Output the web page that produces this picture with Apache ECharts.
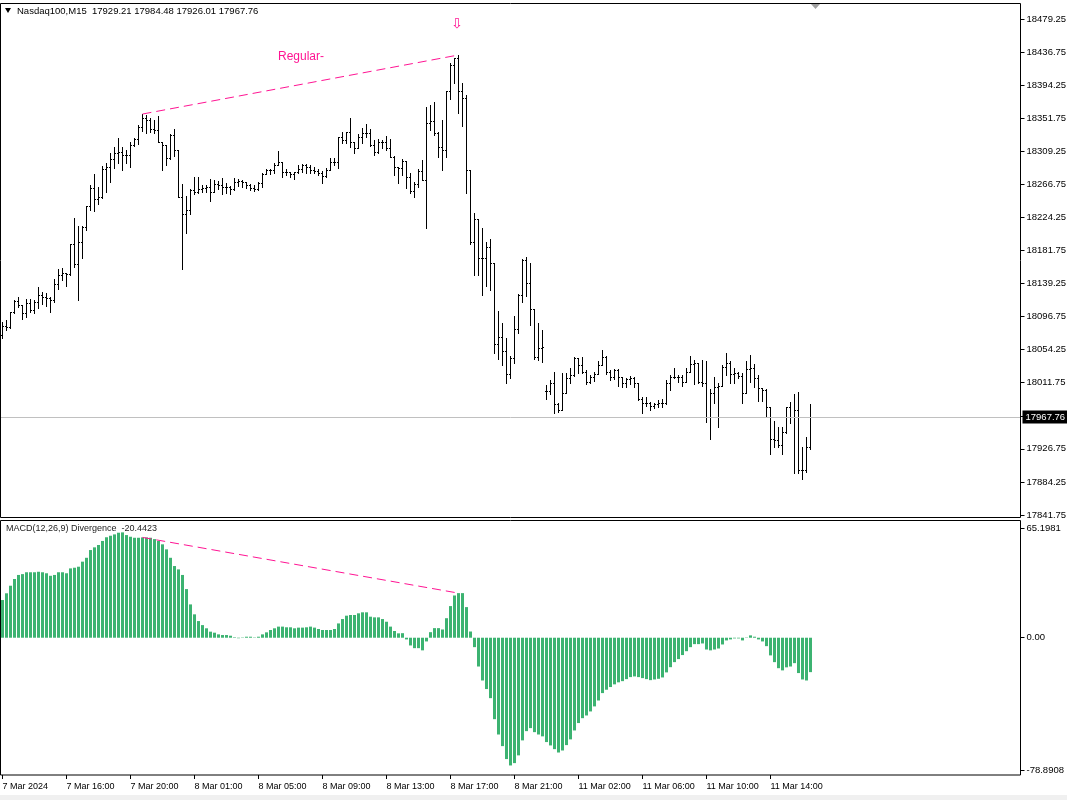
<!DOCTYPE html>
<html><head><meta charset="utf-8">
<script src="https://cdn.jsdelivr.net/npm/echarts@6/dist/echarts.min.js"></script>
<style>html,body{margin:0;padding:0;background:#fff}#c{width:1067px;height:800px}</style>
</head><body><div id="c"></div>
<script>
// ---- data ----
const symbolName = 'Nasdaq100,M15';
const opens = [
18073.1,18084.7,18083.4,18102.7,18116.8,18111.7,18101.4,18114.2,18105.2,18115.5,
18124.5,18121.9,18120.7,18118.1,18138.6,18150.2,18152.8,18151.5,18190.1,18164.6,
18192.6,18211.9,18238.9,18262.0,18247.9,18250.4,18286.5,18289.0,18299.3,18307.0,
18308.3,18304.5,18304.5,18317.3,18325.0,18340.4,18352.0,18349.4,18337.9,18336.6,
18321.2,18317.3,18300.6,18330.2,18310.9,18250.4,18228.6,18233.8,18259.5,18256.9,
18260.7,18262.0,18263.3,18256.9,18267.2,18265.9,18263.3,18263.3,18260.7,18269.7,
18271.0,18269.7,18265.9,18262.0,18260.7,18268.5,18280.3,18285.2,18285.2,18291.6,
18295.5,18282.6,18282.6,18280.0,18282.6,18286.5,18291.6,18289.0,18285.2,18283.9,
18281.3,18277.5,18285.2,18295.5,18295.5,18327.6,18323.7,18334.0,18321.2,18313.5,
18327.6,18332.7,18332.7,18317.3,18308.3,18321.2,18321.2,18313.5,18301.9,18289.0,
18287.7,18296.8,18276.2,18258.2,18267.2,18283.9,18272.3,18345.6,18348.2,18332.7,
18314.7,18310.9,18386.7,18420.1,18429.1,18386.7,18377.7,18285.2,18192.6,18222.2,
18172.1,18172.1,18186.2,18165.6,18061.5,18070.5,18052.5,18023.0,18043.5,18080.8,
18124.5,18169.5,18139.9,18106.5,18044.8,18056.4,18001.1,18001.1,18011.4,17984.4,
17976.7,17998.6,18017.8,18021.7,18043.5,18034.5,18025.5,18012.7,18019.1,18023.0,
18034.5,18044.8,18025.5,18019.1,18028.1,18019.1,18011.4,18016.6,18017.8,18011.4,
17990.8,17985.7,17985.7,17981.8,17984.4,17985.7,17985.7,18011.4,18019.1,18019.1,
18019.1,18012.7,18025.5,18035.8,18037.1,18012.7,18011.4,17967.7,17998.6,18006.3,
18007.5,18031.9,18037.1,18023.0,18024.3,18020.4,17998.6,18029.4,18030.7,18017.8,
18005.0,18002.4,17980.6,17939.4,17938.1,17931.7,17948.4,17980.6,17967.7,17976.7,
17899.6,17899.6,17929.21];
const highs = [
18089.8,18092.4,18102.7,18118.1,18121.9,18111.7,18119.4,18119.4,18118.1,18134.8,
18128.4,18127.1,18121.9,18145.1,18157.9,18159.2,18152.8,18190.1,18223.5,18213.2,
18213.2,18238.9,18265.9,18280.3,18263.3,18290.3,18294.2,18307.0,18314.7,18326.3,
18314.7,18310.9,18321.2,18326.3,18343.0,18357.1,18355.9,18352.0,18349.4,18354.6,
18321.2,18317.3,18331.4,18337.9,18310.9,18267.2,18251.7,18260.7,18276.2,18276.2,
18265.9,18265.9,18273.6,18272.3,18271.0,18274.9,18268.5,18264.6,18274.9,18273.6,
18272.3,18269.7,18267.2,18265.9,18269.7,18281.6,18286.5,18286.5,18294.2,18309.6,
18295.5,18286.5,18282.6,18282.6,18291.6,18292.9,18292.9,18291.6,18289.0,18286.5,
18283.9,18287.7,18300.6,18300.6,18327.6,18334.0,18334.0,18352.0,18321.2,18331.4,
18339.2,18344.3,18337.9,18323.7,18325.0,18323.7,18328.9,18325.0,18303.2,18289.0,
18299.3,18296.8,18281.3,18269.7,18286.5,18298.0,18366.1,18368.7,18372.6,18334.0,
18349.4,18386.7,18422.7,18429.1,18433.0,18397.0,18381.6,18285.2,18230.0,18222.2,
18210.6,18192.6,18196.5,18165.6,18103.9,18088.5,18069.2,18046.1,18097.5,18125.8,
18170.8,18173.4,18165.6,18106.5,18088.5,18079.5,18008.8,18015.3,18025.5,17985.7,
18024.3,18024.3,18030.7,18044.2,18043.5,18044.8,18028.1,18021.7,18025.5,18039.7,
18053.8,18046.1,18028.1,18029.4,18029.4,18019.1,18017.8,18020.4,18019.1,18011.4,
17993.4,17993.4,17987.0,17985.7,17989.6,17990.8,18015.3,18021.7,18030.7,18021.7,
18021.7,18030.7,18046.1,18041.0,18037.1,18041.0,18039.7,18003.7,18019.1,18011.4,
18034.5,18050.0,18039.7,18030.7,18025.5,18024.3,18039.7,18047.4,18035.8,18021.7,
18005.0,18003.7,17980.6,17962.6,17954.9,17954.9,17980.6,17987.0,17997.3,18000.0,
17929.2,17942.0,17984.48];
const lows = [
18069.2,18079.5,18082.2,18101.4,18109.1,18093.7,18096.2,18102.7,18101.4,18107.8,
18112.9,18110.4,18102.7,18115.5,18132.2,18143.8,18136.1,18150.2,18160.8,18118.1,
18172.1,18208.1,18233.8,18232.5,18241.5,18249.1,18256.9,18269.7,18287.7,18294.2,
18285.2,18294.2,18289.0,18316.0,18318.6,18335.3,18332.7,18334.0,18332.7,18321.2,
18285.2,18291.6,18299.3,18303.2,18250.4,18157.9,18204.2,18228.6,18254.3,18255.6,
18256.9,18256.9,18245.3,18256.9,18260.7,18254.3,18255.6,18254.3,18259.5,18264.6,
18263.3,18262.0,18259.5,18258.2,18259.5,18263.3,18280.3,18280.3,18281.6,18291.6,
18276.2,18278.7,18276.2,18273.6,18281.3,18282.6,18281.3,18281.3,18281.3,18278.7,
18268.5,18276.2,18285.2,18291.6,18287.7,18319.9,18319.9,18314.7,18307.0,18313.5,
18319.9,18327.6,18316.0,18304.5,18307.0,18313.5,18310.9,18301.9,18278.7,18268.5,
18278.7,18262.0,18255.6,18250.4,18263.3,18272.3,18210.6,18336.6,18330.2,18301.9,
18285.2,18301.9,18376.4,18397.0,18358.4,18341.7,18255.6,18190.1,18150.2,18150.2,
18124.5,18136.1,18130.9,18050.0,18042.3,18034.5,18011.4,18017.8,18037.1,18075.7,
18115.5,18123.2,18086.0,18042.3,18041.0,18038.4,17990.8,17997.3,17972.9,17974.0,
17976.7,17998.6,18011.4,18020.4,18024.3,18024.3,18010.1,18011.4,18014.0,18023.0,
18034.5,18023.0,18015.3,18016.6,18007.2,18005.9,18005.9,18010.1,18005.9,17989.6,
17972.9,17981.8,17976.7,17979.3,17980.6,17980.6,17984.4,18002.4,18017.8,18012.7,
18007.2,18012.7,18025.5,18010.1,18011.4,18007.2,17961.3,17939.4,17985.7,17954.9,
18007.5,18021.7,18011.4,18011.4,18017.8,17985.7,17998.6,18012.7,18006.3,17988.3,
17988.3,17967.7,17920.2,17929.2,17929.2,17920.2,17947.1,17960.0,17895.7,17895.7,
17888.0,17897.0,17926.01];
const closes = [
18084.7,18083.4,18102.7,18116.8,18111.7,18101.4,18114.2,18105.2,18115.5,18124.5,
18121.9,18120.7,18118.1,18138.6,18150.2,18152.8,18151.5,18190.1,18164.6,18192.6,
18211.9,18238.9,18262.0,18247.9,18250.4,18286.5,18289.0,18299.3,18307.0,18308.3,
18304.5,18304.5,18317.3,18325.0,18340.4,18352.0,18349.4,18337.9,18336.6,18321.2,
18317.3,18300.6,18330.2,18310.9,18250.4,18228.6,18233.8,18259.5,18256.9,18260.7,
18262.0,18263.3,18256.9,18267.2,18265.9,18263.3,18263.3,18260.7,18269.7,18271.0,
18269.7,18265.9,18262.0,18260.7,18268.5,18280.3,18285.2,18285.2,18291.6,18295.5,
18282.6,18282.6,18280.0,18282.6,18286.5,18291.6,18289.0,18285.2,18283.9,18281.3,
18277.5,18285.2,18295.5,18295.5,18327.6,18323.7,18334.0,18321.2,18313.5,18327.6,
18332.7,18332.7,18317.3,18308.3,18321.2,18321.2,18313.5,18301.9,18289.0,18287.7,
18296.8,18276.2,18258.2,18267.2,18283.9,18272.3,18345.6,18348.2,18332.7,18314.7,
18310.9,18386.7,18420.1,18429.1,18386.7,18377.7,18285.2,18192.6,18222.2,18172.1,
18172.1,18186.2,18165.6,18061.5,18070.5,18052.5,18023.0,18043.5,18080.8,18124.5,
18169.5,18139.9,18106.5,18044.8,18056.4,18057.7,18001.1,18011.4,17984.4,17976.7,
17998.6,18017.8,18021.7,18043.5,18034.5,18025.5,18012.7,18019.1,18023.0,18034.5,
18044.8,18025.5,18019.1,18028.1,18019.1,18011.4,18016.6,18017.8,18011.4,17990.8,
17985.7,17985.7,17981.8,17984.4,17985.7,17985.7,18011.4,18019.1,18019.1,18019.1,
18012.7,18025.5,18035.8,18037.1,18012.7,18011.4,17967.7,17998.6,18006.3,18007.5,
18031.9,18037.1,18023.0,18024.3,18020.4,17998.6,18029.4,18030.7,18017.8,18005.0,
18002.4,17980.6,17939.4,17938.1,17931.7,17948.4,17980.6,17967.7,17976.7,17899.6,
17899.6,17929.2,17967.76];
const macdHist = [
22.4,26.4,30.9,34.9,37.3,37.8,38.9,38.9,38.9,39.2,
38.9,38.3,36.8,37.3,38.9,38.9,38.3,41.2,41.6,42.2,
45.2,47.5,52.1,53.7,55.1,57.5,59.7,60.6,61.4,62.4,
62.6,61.0,60.0,59.4,59.4,59.6,59.6,59.4,58.6,57.5,
55.5,52.5,47.5,42.6,40.6,37.3,28.9,19.8,13.9,9.9,
7.5,5.6,3.6,3.0,2.0,1.6,1.6,1.2,0.3,-0.3,
0.2,0.6,0.6,0.2,0.6,2.0,3.2,4.6,5.6,6.6,
6.6,6.2,6.2,5.6,6.0,6.0,6.2,6.6,6.0,5.2,
4.6,4.6,4.6,5.2,8.5,11.1,13.1,13.5,13.5,14.5,
15.1,15.1,12.5,12.1,12.1,11.1,9.5,6.6,4.0,2.6,
2.7,-1.0,-4.6,-6.2,-6.2,-7.5,-2.2,3.3,5.7,5.7,
4.9,11.6,18.8,25.1,26.5,26.5,18.2,3.7,-5.6,-17.1,
-25.4,-30.5,-35.9,-48.4,-57.5,-64.4,-72.1,-75.9,-74.5,-69.9,
-61.0,-55.5,-53.7,-56.1,-57.5,-58.6,-62.0,-64.0,-66.2,-68.2,
-67.0,-63.8,-60.4,-55.1,-50.7,-47.8,-46.2,-43.8,-40.8,-37.3,
-32.9,-30.9,-29.3,-27.7,-26.5,-25.8,-24.6,-23.4,-23.0,-23.4,
-24.0,-24.6,-25.2,-24.8,-24.4,-23.6,-20.6,-17.5,-14.5,-12.7,
-10.3,-8.0,-5.6,-3.8,-3.8,-3.4,-7.0,-7.5,-7.0,-6.4,
-4.0,-1.6,-1.0,-0.4,-0.4,-1.6,0.2,1.4,0.6,-1.0,
-2.2,-5.0,-10.5,-14.5,-18.1,-19.4,-17.6,-17.1,-15.1,-21.0,
-24.8,-25.4,-20.4423];
const timeTickLabels = ['7 Mar 2024','7 Mar 16:00','7 Mar 20:00','8 Mar 01:00','8 Mar 05:00','8 Mar 09:00',
  '8 Mar 13:00','8 Mar 17:00','8 Mar 21:00','11 Mar 02:00','11 Mar 06:00','11 Mar 10:00','11 Mar 14:00'];
const barsPerTimeTick = 16;
const priceAxisMin = 17841.75, priceAxisMax = 18479.25, priceAxisStep = 42.5;
const macdAxisMin = -78.8908, macdAxisMax = 65.1981;
const lastPrice = 17967.76;
const macdLast = -20.4423;
const divStartBar = 35, divEndBar = 114;
const divPriceStart = 18357.1, divPriceEnd = 18433.0;
const divMacdStart = 59.6, divMacdEnd = 26.5;
const slotCount = 255; // bars + empty right shift

// ---- chart ----
const FONT = '"Liberation Sans", Arial, sans-serif';
const PINK = '#FF1493';
const cats = Array.from({length: slotCount}, (_, i) => String(i));
const ohlc = closes.map((c, i) => [i, opens[i], highs[i], lows[i], c]);
const isTimeTick = (idx) => idx % barsPerTimeTick === 0 && idx / barsPerTimeTick < timeTickLabels.length;

const chart = echarts.init(document.getElementById('c'), null, {renderer: 'canvas'});
const option = {
  animation: false,
  backgroundColor: '#ffffff',
  textStyle: {fontFamily: FONT},
  grid: [
    {left: 0.5, top: 19, width: 1020, height: 496, containLabel: false, outerBoundsMode: 'none'},
    {left: 0.5, top: 528, width: 1020, height: 242.5, containLabel: false, outerBoundsMode: 'none'}
  ],
  xAxis: [
    {type: 'category', gridIndex: 0, data: cats, boundaryGap: true, show: false},
    {type: 'category', gridIndex: 1, data: cats, boundaryGap: true, position: 'bottom', offset: 4.5,
      axisLine: {show: false, onZero: false},
      axisTick: {show: true, alignWithLabel: true, length: 4, interval: isTimeTick, lineStyle: {color: '#000', width: 1}},
      axisLabel: {show: true, interval: isTimeTick, align: 'left', margin: 7, fontSize: 9, color: '#000', fontFamily: FONT,
        formatter: (v, i) => timeTickLabels[Math.round(i / barsPerTimeTick)] || ''},
      splitLine: {show: false}}
  ],
  yAxis: [
    {type: 'value', gridIndex: 0, position: 'right', min: priceAxisMin, max: priceAxisMax, interval: priceAxisStep,
      splitLine: {show: false}, axisLine: {show: false},
      axisTick: {show: true, length: 4, lineStyle: {color: '#000'}},
      axisLabel: {formatter: v => v.toFixed(2), fontSize: 9.5, color: '#000', margin: 6, fontFamily: FONT}},
    {type: 'value', gridIndex: 1, position: 'right', min: macdAxisMin, max: macdAxisMax, interval: -macdAxisMin,
      splitLine: {show: false}, axisLine: {show: false},
      axisTick: {show: true, length: 4, lineStyle: {color: '#000'}},
      axisLabel: {formatter: v => Math.abs(v) < 1e-9 ? '0.00' : v.toFixed(4), fontSize: 9.5, color: '#000', margin: 6, fontFamily: FONT}}
  ],
  series: [
    {
      type: 'custom', xAxisIndex: 0, yAxisIndex: 0, data: ohlc,
      encode: {x: 0, y: [1, 2, 3, 4]},
      z: 3,
      renderItem: (params, api) => {
        const i = api.value(0);
        const pH = api.coord([i, api.value(2)]);
        const pL = api.coord([i, api.value(3)]);
        const pO = api.coord([i, api.value(1)]);
        const pC = api.coord([i, api.value(4)]);
        const x = Math.floor(pH[0]) + 0.5;
        const ry = y => Math.round(y) + 0.5;
        const st = {stroke: '#000', lineWidth: 1};
        return {type: 'group', children: [
          {type: 'line', shape: {x1: x, y1: Math.round(pH[1]), x2: x, y2: Math.round(pL[1]) + 1}, style: st},
          {type: 'line', shape: {x1: x - 1.5, y1: ry(pO[1]), x2: x, y2: ry(pO[1])}, style: st},
          {type: 'line', shape: {x1: x, y1: ry(pC[1]), x2: x + 1.5, y2: ry(pC[1])}, style: st}
        ]};
      },
      markLine: {
        silent: true, symbol: ['none', 'none'], animation: false,
        label: {show: false},
        data: [
          [{coord: [divStartBar, divPriceStart], lineStyle: {color: PINK, type: [9, 5], width: 1}},
           {coord: [divEndBar, divPriceEnd]}],
          {yAxis: lastPrice, lineStyle: {color: '#C0C0C0', type: 'solid', width: 1},
           label: {show: true, position: 'end', distance: 2, formatter: lastPrice.toFixed(2),
             backgroundColor: '#000', color: '#fff', fontSize: 9.5, fontFamily: FONT, padding: [2, 4, 1, 3]}}
        ]
      }
    },
    {
      type: 'bar', xAxisIndex: 1, yAxisIndex: 1, data: macdHist, barWidth: 3,
      itemStyle: {color: '#3CB371'},
      markLine: {
        silent: true, symbol: ['none', 'none'], animation: false, label: {show: false},
        lineStyle: {color: PINK, type: [9, 5], width: 1},
        data: [[{coord: [divStartBar, divMacdStart]}, {coord: [divEndBar, divMacdEnd]}]]
      }
    }
  ],
  graphic: [
    {type: 'rect', z: 100, shape: {x: 0.5, y: 3.5, width: 1020, height: 514}, style: {fill: 'transparent', stroke: '#000', lineWidth: 1}},
    {type: 'rect', z: 100, shape: {x: 0.5, y: 520.5, width: 1020, height: 254.5}, style: {fill: 'transparent', stroke: '#000', lineWidth: 1}},
    {type: 'rect', z: 100, shape: {x: 0, y: 795, width: 1067, height: 5}, style: {fill: '#F0F0F0'}},
    {type: 'polygon', z: 100, shape: {points: [[5, 8], [11, 8], [8, 13]]}, style: {fill: '#000'}},
    {type: 'polygon', z: 100, shape: {points: [[811, 4], [820, 4], [815.5, 9]]}, style: {fill: '#A0A0A0'}},
    {type: 'text', z: 100, x: 17, y: 6, style: {text: symbolName + '  ' + [opens[opens.length-1], highs[highs.length-1], lows[lows.length-1], closes[closes.length-1]].map(v => v.toFixed(2)).join(' '),
      fontSize: 9.5, fill: '#000', font: '9.5px ' + FONT}},
    {type: 'text', z: 100, x: 278, y: 51, style: {text: 'Regular-', fill: PINK, font: '12px ' + FONT}},
    {type: 'text', z: 100, x: 451, y: 17, style: {text: '\u21E9', fill: PINK, font: '14px "DejaVu Sans"'}},
    {type: 'text', z: 100, x: 6, y: 524, style: {text: 'MACD(12,26,9) Divergence  ' + macdLast.toFixed(4), fill: '#222', font: '9px ' + FONT}}
  ]
};
chart.setOption(option);
</script>
</body></html>
